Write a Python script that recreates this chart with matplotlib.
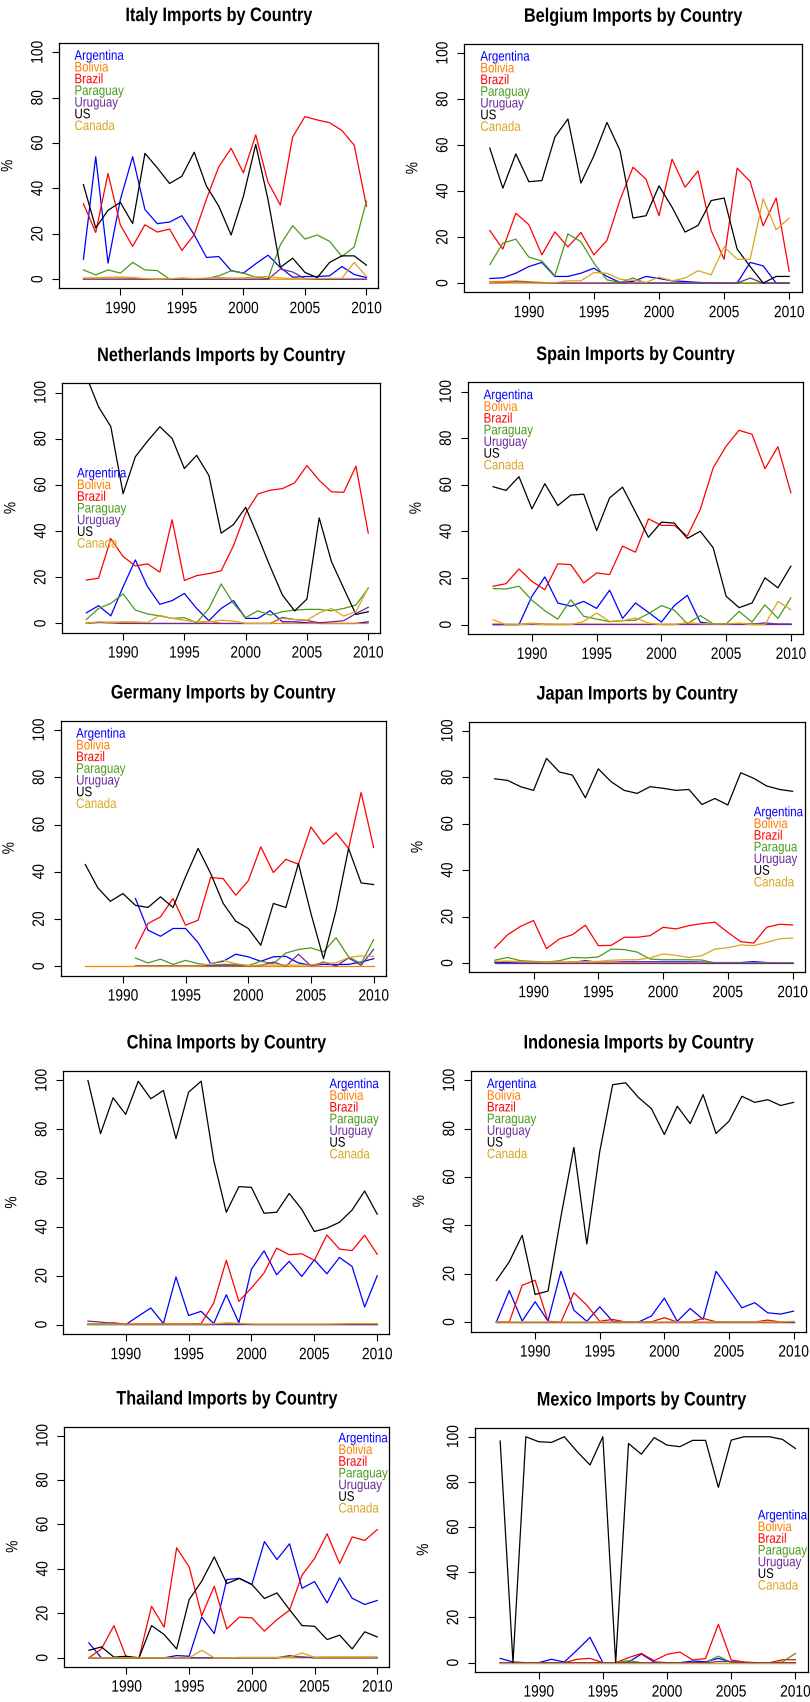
import numpy as np
import matplotlib
matplotlib.use('Agg')
import matplotlib.pyplot as plt
from matplotlib import transforms, patheffects
from matplotlib.transforms import Affine2D

nan = np.nan
YEARS = list(range(1987, 2011))

SERIES = ["Argentina", "Bolivia", "Brazil", "Paraguay", "Uruguay", "US", "Canada"]
COLORS = ["#0000FF", "#FF7F00", "#FF0000", "#4A9A1A", "#6A2A9A", "#000000", "#DAA520"]

# ---- Italy
ITA_ARG = [8.8, 54, 7.1, 35.1, 54, 30.7, 24.5, 25.2, 28, 19.6, 9.6, 10, 3.8, 2.7, 6.8, 10.6, 5.2, 0.9, 1.2, 1.2, 1.5, 5.6, 2.1, 0.7]
ITA_BOL = [0.4, 0.5, 0.6, 0.5, 0.4, 0, 0, 0, 0, 0, 0, 0, 0, 0, 0, 0, 0, 0, 0, 0, 0, 0, 0, 0]
ITA_BRA = [33.3, 20.6, 46.6, 23.9, 14.5, 24, 20.8, 22.1, 12.7, 19.6, 35.4, 49.6, 57.7, 46.9, 63.6, 42.8, 32.7, 62.7, 71.7, 70.2, 69, 65.6, 59.1, 32.2]
ITA_PAR = [4.1, 1.9, 4.1, 2.7, 7.4, 4.1, 3.8, 0, 0, 0, 0.3, 1.5, 3.7, 2.7, 0.9, 0.3, 15.2, 23.6, 17.7, 19.5, 16.7, 10, 14.2, 34.4]
ITA_URU = [0, 0, 0, 0, 0, 0, 0, 0, 0, 0, 0, 0, 0, 0, 0, 0, 4.5, 3.2, 0.3, 0, 0, 0, 0, 0]
ITA_US = [41.7, 22.6, 30.4, 33.9, 24.5, 55.5, 49.1, 42.2, 45.4, 56, 41, 32.2, 19.5, 36.6, 59.4, 35.1, 5.2, 9.3, 3, 0.7, 7.4, 10.3, 10.3, 6.2]
ITA_CAN = [0.5, 0.6, 0.9, 1.0, 0.8, 0.3, 0, 0.2, 0.6, 0.3, 0.5, 0.8, 0.5, 0.6, 1.0, 1.2, 0.6, 0.2, 0.2, 0.3, 0.4, 0.4, 7.4, 1.2]

# ---- Belgium
BEL_ARG = [2, 2.3, 4.3, 7.2, 9, 2.9, 2.9, 4.3, 6.5, 2.9, 0.3, 0.7, 2.9, 2, 1, 0.7, 0.3, 0.1, 0, 0, 9, 7.5, 0, 0]
BEL_BOL = [0.7, 0.7, 1, 0.6, 0.3, 0, 0, 0, 0, 0, 0, 0, 0, 0, 0, 0, 0, 0, 0, 0, 0, 0, 0, 0]
BEL_BRA = [22.9, 14.8, 30.4, 25.4, 12.3, 22.3, 15.7, 22, 12.3, 18.6, 36.2, 50.4, 45.2, 29.3, 53.9, 41.7, 48.8, 22.9, 10.4, 50, 44.2, 24.9, 37, 5.1]
BEL_PAR = [8, 17.4, 19.1, 11.3, 9.6, 3.2, 21.4, 18, 8.7, 1.4, 0.3, 2.2, 0, 0, 0, 0, 0, 0, 0, 0, 0, 0, 0, 0]
BEL_URU = [0, 0.2, 0.5, 0.3, 0, 0, 0, 0, 0, 0, 0, 0, 0, 0, 0, 0, 0, 0, 0, 0, 2.2, 0, 0, 0]
BEL_US = [58.7, 41.3, 56.2, 44.1, 44.6, 63.5, 71.4, 43.5, 55.4, 69.9, 57.7, 28.3, 29.3, 42.3, 33, 22.2, 25.1, 35.9, 37, 14.8, 7.2, 0, 2.9, 2.9]
BEL_CAN = [0, 0, 0, 0, 0, 0.2, 1, 1, 4.6, 4.3, 1.7, 1.2, 0.3, 2.6, 1, 2.2, 5.4, 3.6, 15.7, 10.4, 10.4, 36.7, 23.2, 28.3]

# ---- Netherlands
NLD_ARG = [4.6, 7.7, 3.3, 15.9, 27.5, 15.9, 8.3, 9.9, 13, 6.5, 1.2, 6.5, 9.9, 2.2, 2.2, 5.5, 0.7, 0.7, 0.3, 0, 0, 0, 0, 0.7]
NLD_BOL = [0.3, 0.5, 0.6, 0.5, 0.2, 0, 0, 0, 0, 0, 1, 0, 0, 0, 0, 0, 0, 0, 0, 0, 0, 0, 0, 0]
NLD_BRA = [18.8, 19.6, 36.7, 29, 24.9, 25.8, 22.2, 44.9, 18.6, 20.7, 21.6, 22.8, 33.6, 47.8, 56.1, 57.7, 58.4, 60.9, 68.4, 62, 57, 56.8, 68.1, 39.1]
NLD_PAR = [1.7, 6.5, 8.7, 12.8, 5.8, 4.1, 3.3, 2.2, 2.5, 0.3, 6.5, 17.1, 8.7, 2.5, 5.5, 3.6, 5.1, 5.8, 6.1, 6.1, 5.5, 6.5, 8, 15.2]
NLD_URU = [0, 0.4, 0.2, 0, 0, 0, 0, 0, 0, 0, 0, 0, 0, 0, 0, 0, 2.6, 1.7, 1.3, 0.3, 0.7, 1.2, 4.3, 7]
NLD_US = [107, 93.8, 85.2, 56.2, 72.2, 79, 85.2, 80.1, 67.1, 72.8, 64.1, 39.1, 42.8, 50.3, 37.7, 24.6, 12.3, 5.4, 10.6, 45.7, 26.8, 15.2, 3.9, 5.1]
NLD_CAN = [0, 0.7, 0.3, 0.7, 0.7, 0.4, 3.5, 2.2, 1.4, 0.7, 0.7, 1.4, 1, 0, 0, 0, 2.2, 1.7, 1.4, 4.6, 6.5, 3.2, 5.1, 15.5]

# ---- Spain
ESP_ARG = [0, 0, 0, 12.2, 20.5, 9.3, 7.9, 10, 7, 14.8, 2.7, 9.3, 5.3, 1.1, 8.2, 12.6, 1.1, 0.3, 0.3, 0.3, 0.3, 0.7, 0.3, 0.3]
ESP_BOL = [0.3, 0.2, 0.2, 0.6, 0.3, 0.2, 0.2, 0.3, 0.2, 0.2, 0.2, 0.2, 0.2, 0.2, 0.2, 0.3, 0.3, 0.3, 0.3, 0.5, 0.3, 0.2, 0.2, 0.2]
ESP_BRA = [16.5, 17.6, 23.9, 18.6, 15, 26.1, 25.8, 17.9, 22.2, 21.5, 33.7, 31.1, 45.4, 42.6, 42.6, 38, 49.4, 67.3, 76.6, 83.4, 81.7, 66.9, 76.4, 56.6]
ESP_PAR = [15.5, 15.3, 16.5, 10.5, 6, 2.4, 10.7, 3.6, 2.4, 1.3, 1.7, 1.9, 4.7, 8.2, 6.2, 0.4, 3.9, 0.4, 0.3, 5.7, 1.1, 8.5, 2.7, 11.5]
ESP_URU = [0.2, 0.2, 0.2, 0.2, 0.2, 0.2, 0.2, 0.2, 0.2, 0.2, 0.2, 0.2, 0.2, 0.2, 0.2, 0.2, 0.2, 0.2, 0.2, 0.2, 0.2, 0.2, 0.2, 0.2]
ESP_US = [59.2, 57.6, 63.5, 49.7, 60.5, 51.1, 55.6, 56, 40.4, 54.4, 59, 48.3, 37.5, 44, 43.6, 37, 40.1, 33, 12.2, 7.3, 9.3, 20.1, 15.8, 25.1]
ESP_CAN = [2.1, 0, 0, 0.4, 0, 0, 0, 1.4, 5, 1.4, 1.7, 2.9, 0.7, 0, 0, 1, 0.4, 0.3, 0.3, 0.7, 0, 0, 10, 6.4]

# ---- Germany (no South American data before 1991)
DEU_ARG = [nan, nan, nan, nan, 28.7, 15.3, 12.7, 16, 16, 10, 1.1, 2.1, 5.1, 4, 2.1, 4, 4.2, 1.4, 0.4, 0.8, 0.7, 0.8, 1.8, 3.2]
DEU_BOL = [0, 0, 0, 0, 0, 0, 0, 0, 0, 0, 0, 0, 0, 0, 0, 0, 0, 0, 0, 0, 0, 0, 0, 0]
DEU_BRA = [nan, nan, nan, nan, 7.5, 18.1, 20.9, 28.7, 17.4, 19.5, 37.6, 37.1, 30.1, 36.2, 50.6, 39.7, 45.3, 43.2, 59, 51.7, 56.5, 49.9, 73.6, 50.3]
DEU_PAR = [nan, nan, nan, nan, 3.5, 1.4, 3, 0.8, 2.5, 1.1, 0.4, 0.8, 0.8, 0.3, 2.1, 1.1, 5.6, 7.1, 7.8, 6.1, 12.1, 4, 1.1, 11.3]
DEU_URU = [nan, nan, nan, nan, 0.2, 0.2, 0.2, 0.2, 0.2, 0.2, 0.2, 0.2, 0.2, 0.2, 0.3, 1.8, 0, 5.1, 0.1, 1.8, 0.1, 3.5, 0.4, 7.2]
DEU_US = [43.1, 33.2, 27.5, 30.8, 25.8, 24.9, 29.4, 24.9, 37.9, 49.9, 39.3, 26.6, 19.1, 16, 8.9, 26.6, 24.9, 43.5, 22.3, 3.2, 23.7, 49.9, 35.3, 34.6]
DEU_CAN = [nan, nan, nan, nan, 0, 0, 0, 0, 0, 0, 1.1, 2.5, 1.1, 0.3, 0.5, 0.5, 0.5, 0.5, 0.5, 1.4, 1.4, 3.7, 4.4, 4.2]

# ---- Japan
JPN_ARG = [0.3, 0.3, 0.4, 0.3, 0.2, 0.2, 0.3, 1, 0.3, 0.3, 0.5, 0.5, 0.5, 0.5, 0.5, 0.5, 0.4, 0.2, 0.2, 0.2, 0.6, 0.2, 0.1, 0.1]
JPN_BOL = [0.6, 0.8, 0.6, 0.5, 0.4, 0.3, 0.3, 0.3, 0.3, 0.3, 0.2, 0.2, 0.1, 0.1, 0.1, 0.1, 0.1, 0, 0, 0, 0, 0, 0, 0]
JPN_BRA = [6.5, 12.2, 15.8, 18.3, 6.2, 10.4, 12.2, 16.3, 7.5, 7.6, 11.1, 11.1, 11.8, 15.4, 14.7, 16.1, 17, 17.6, 13.2, 9.2, 8.6, 15.4, 16.7, 16.4]
JPN_PAR = [1.2, 2.4, 1, 0.7, 0.4, 1, 2.4, 2.2, 2.6, 6, 5.8, 4.7, 1.7, 1.4, 1.4, 1.4, 1.3, 0, 0, 0, 0, 0, 0, 0]
JPN_URU = [0, 0, 0, 0, 0, 0, 0, 0, 0, 0, 0, 0, 0, 0, 0, 0, 0, 0, 0, 0, 0, 0, 0, 0]
JPN_US = [79.4, 78.7, 76, 74.4, 88.2, 82.3, 81, 71.2, 83.7, 78.1, 74.4, 73.1, 76, 75.3, 74.4, 74.8, 68.3, 70.9, 68.1, 82, 79.6, 76.3, 74.8, 74]
JPN_CAN = [0.7, 0.7, 0.6, 0.5, 0.4, 0.4, 0.5, 0.6, 0.7, 1.2, 1.4, 1.4, 2.2, 3.9, 3.3, 2.4, 3.2, 6, 6.6, 7.8, 7.5, 8.9, 10.4, 10.8]

# ---- China
CHN_ARG = [0, 0, 0, 0, 3.4, 6.8, 0.4, 19.5, 3.7, 5.4, 0.4, 12.2, 0.7, 22.7, 30.2, 20.4, 25.9, 19.7, 26.5, 20.8, 27.5, 23.8, 7.2, 20]
CHN_BOL = [0, 0.3, 0.7, 0, 0, 0, 0, 0, 0, 0, 0, 0, 0, 0, 0, 0, 0, 0, 0, 0, 0, 0, 0, 0]
CHN_BRA = [0.3, 0.3, 0.7, 0.2, 0.3, 0.3, 0.3, 0.3, 0.3, 0.4, 8.8, 26.3, 9.5, 15, 21.1, 31.3, 28.6, 29, 26.3, 36.7, 30.9, 30.3, 36.6, 28.8]
CHN_PAR = [0, 0, 0, 0, 0, 0, 0, 0, 0, 0, 0, 0.4, 0.4, 0, 0, 0, 0, 0, 0, 0, 0, 0, 0, 0]
CHN_URU = [1.4, 1, 0.4, 0, 0, 0, 0, 0, 0, 0, 0, 0, 0, 0, 0, 0, 0, 0, 0, 0, 0, 0, 0, 0]
CHN_US = [100, 78.2, 92.9, 86.1, 99.7, 92.5, 95.9, 76.2, 95.2, 99.7, 67.3, 46, 56.5, 56.2, 45.6, 46, 53.7, 47.2, 38.1, 39.5, 41.9, 46.9, 54.7, 45.2]
CHN_CAN = [0.3, 0.3, 0.2, 0.2, 0.2, 0.2, 0.2, 0.2, 0.2, 0.2, 0.3, 0.7, 0.5, 0.2, 0.2, 0.2, 0.2, 0.2, 0.2, 0.2, 0.3, 0.4, 0.4, 0.4]

# ---- Indonesia
IDN_ARG = [0, 13, 0.4, 8.4, 0.4, 21, 4.9, 0.3, 6.3, 0.3, 0, 0, 2.5, 9.9, 0.3, 5.6, 1.1, 21, 13.5, 5.9, 8, 3.8, 3.3, 4.5]
IDN_BOL = [0, 0, 0, 0, 0, 0, 0, 0, 0, 0, 0, 0, 0, 0, 0, 0, 0, 0, 0, 0, 0, 0, 0, 0]
IDN_BRA = [0, 0, 15.2, 17.3, 0.3, 0, 12.1, 7, 0.3, 1.1, 0, 0, 0.1, 1.8, 0, 0, 1.5, 0.1, 0, 0, 0, 0.8, 0, 0]
IDN_PAR = [0, 0, 0, 0, 0, 0, 0, 0, 0, 0, 0, 0, 0, 0, 0, 0, 0, 0, 0, 0, 0, 0, 0, 0]
IDN_URU = [0, 0, 0, 0, 0, 0, 0, 0, 0, 0, 0, 0, 0, 0, 0, 0, 0, 0, 0, 0, 0, 0, 0, 0]
IDN_US = [17.2, 24.9, 35.9, 11.4, 12.8, 43.7, 72.3, 32.3, 70.5, 98.2, 99, 92.9, 88.3, 77.6, 89.3, 82.1, 94.1, 78, 83.1, 93.4, 90.9, 92, 89.6, 90.9]
IDN_CAN = [0, 0, 0, 0, 0, 0, 0, 0, 0, 0, 0, 0, 0, 0, 0, 0, 0, 0, 0, 0, 0, 0, 0, 0.3]

# ---- Thailand
THA_ARG = [6.7, 0, 0, 0, 0, 0, 0, 1, 0.7, 18.4, 10.9, 35.2, 35.8, 33, 52.3, 44.2, 51.3, 31.3, 34.3, 24.7, 36, 26.8, 24, 25.8]
THA_BOL = [0, 0, 0, 0, 0, 0, 0, 0, 0, 0, 0, 0, 0, 0, 0, 0, 0, 0, 0.3, 0.3, 0.3, 0.3, 0.3, 0.3]
THA_BRA = [0, 4, 14.5, 0, 0, 23.2, 13.8, 49.5, 40.9, 19, 32.2, 13, 18.3, 18, 12, 17.2, 21.4, 37.2, 44.7, 55.8, 42.4, 54.4, 52.8, 57.7]
THA_PAR = [0, 0, 0, 0, 0, 0, 0, 0, 0, 0, 0, 0, 0, 0, 0, 0, 0.5, 0.5, 0, 0, 0, 0, 0, 0]
THA_URU = [0, 0, 0, 0, 0, 0, 0, 0, 0, 0, 0, 0, 0, 0, 0, 0, 1, 0.2, 0, 0, 0, 0, 0, 0]
THA_US = [3.4, 4.9, 0.3, 0.7, 0, 14.5, 10.5, 4, 26.2, 34.5, 45.4, 33.4, 35.7, 33, 26.7, 29.2, 21.7, 14.5, 14.2, 8.2, 10.2, 4, 11.7, 9.4]
THA_CAN = [0, 0, 0, 0, 0, 0, 0, 0, 0, 3.4, 0, 0, 0.2, 0.2, 0.2, 0.2, 0.2, 2.2, 0.2, 0.3, 0.3, 0.3, 0.3, 0.3]

# ---- Mexico
MEX_ARG = [1.9, 0.3, 0, 0, 1.5, 0.3, 5.6, 11.2, 0, 0, 0.3, 3.8, 0.3, 0, 0, 0.7, 0.4, 1.9, 0.3, 0, 0, 0, 0, 0]
MEX_BOL = [0, 0, 0, 0, 0, 0, 0, 0, 0, 0, 0, 0, 0, 0, 0, 0, 0, 0, 0, 0, 0, 0, 0, 0]
MEX_BRA = [0, 0, 0, 0, 0, 0, 1.5, 1.9, 0, 0, 2.2, 4.1, 0.9, 3.7, 4.7, 1.2, 1.8, 17, 1.2, 0.3, 0, 0, 1.3, 1.3]
MEX_PAR = [0, 0, 0, 0, 0, 0, 0, 0, 0, 0, 0.9, 0, 0, 0, 0, 0, 0, 2.9, 0, 0, 0, 0, 0.3, 4.1]
MEX_URU = [0, 0, 0, 0, 0, 0, 0, 0, 0, 0, 0, 0, 0, 0, 0, 0, 0, 0.5, 0.5, 0, 0, 0, 0, 0]
MEX_US = [98.1, 0, 100, 97.8, 97.5, 100, 93.4, 87.5, 100, 0, 97, 92.3, 99.6, 96.3, 95.6, 98.4, 98.4, 77.6, 98.5, 100, 100, 100, 98.8, 94.8]
MEX_CAN = [0, 0, 0, 0, 0, 0, 0, 0, 0, 0, 0, 0, 0, 0, 0, 0, 0, 0, 0, 0, 0, 0, 0, 0]

# (title, series, legend anchor (year, value), axes box in pixels: left, top, right, bottom)
PANELS = [
    ("Italy", [ITA_ARG, ITA_BOL, ITA_BRA, ITA_PAR, ITA_URU, ITA_US, ITA_CAN], (1986.27, 98.7), (59.3, 43.3, 378.3, 288.3)),
    ("Belgium", [BEL_ARG, BEL_BOL, BEL_BRA, BEL_PAR, BEL_URU, BEL_US, BEL_CAN], (1986.27, 98.7), (464.3, 44, 801.7, 292.3)),
    ("Netherlands", [NLD_ARG, NLD_BOL, NLD_BRA, NLD_PAR, NLD_URU, NLD_US, NLD_CAN], (1986.24, 65.2), (62.3, 383.3, 380, 632.7)),
    ("Spain", [ESP_ARG, ESP_BOL, ESP_BRA, ESP_PAR, ESP_URU, ESP_US, ESP_CAN], (1986.27, 98.7), (467.7, 382.3, 803.3, 634)),
    ("Germany", [DEU_ARG, DEU_BOL, DEU_BRA, DEU_PAR, DEU_URU, DEU_US, DEU_CAN], (1986.27, 98.7), (60.7, 720.7, 385.7, 975.7)),
    ("Japan", [JPN_ARG, JPN_BOL, JPN_BRA, JPN_PAR, JPN_URU, JPN_US, JPN_CAN], (2007.0, 65.2), (469.3, 721.7, 805, 972.3)),
    ("China", [CHN_ARG, CHN_BOL, CHN_BRA, CHN_PAR, CHN_URU, CHN_US, CHN_CAN], (2006.2, 98.7), (63.3, 1070.7, 389.3, 1334.3)),
    ("Indonesia", [IDN_ARG, IDN_BOL, IDN_BRA, IDN_PAR, IDN_URU, IDN_US, IDN_CAN], (1986.27, 98.7), (471, 1070.7, 806, 1331.7)),
    ("Thailand", [THA_ARG, THA_BOL, THA_BRA, THA_PAR, THA_URU, THA_US, THA_CAN], (2006.9, 99.0), (64.3, 1426.7, 389.3, 1666.7)),
    ("Mexico", [MEX_ARG, MEX_BOL, MEX_BRA, MEX_PAR, MEX_URU, MEX_US, MEX_CAN], (2007.07, 65.4), (475, 1427.7, 807.7, 1671.7)),
]


# the source text is narrow and tall (R output squeezed); stretch glyphs vertically
class Stretch(patheffects.AbstractPathEffect):
    def __init__(self, sy=1.2):
        super().__init__()
        self.sy = sy

    def draw_path(self, renderer, gc, tpath, affine, rgbFace=None):
        renderer.draw_path(gc, tpath, Affine2D().scale(1, self.sy) + affine, rgbFace)


TALL = [Stretch(1.2)]
plt.rcParams['font.family'] = ['Liberation Sans', 'DejaVu Sans']

W, H = 810, 1702
fig = plt.figure(figsize=(W / 100, H / 100), dpi=100)

for title, data, leg_pos, (l, t, r, b) in PANELS:
    ax = fig.add_axes([l / W, 1 - b / H, (r - l) / W, (b - t) / H])
    for name, vals, col in zip(SERIES, data, COLORS):
        ax.plot(YEARS, vals, color=col, lw=0.9)

    ax.set_xlim(1985.04, 2010.96)
    ax.set_ylim(-4, 104)
    ax.set_xticks([1990, 1995, 2000, 2005, 2010])
    ax.set_yticks([0, 20, 40, 60, 80, 100])
    ax.tick_params(direction='out', length=5, width=0.8, labelsize=9.9, pad=5)
    ax.tick_params(axis='y', labelrotation=90)
    for lab in ax.get_yticklabels():
        lab.set_va('center')
        lab.set_path_effects(TALL)
    for lab in ax.get_xticklabels():
        lab.set_path_effects(TALL)
    for sp in ax.spines.values():
        sp.set_linewidth(0.9)

    ax.set_ylabel('%', fontsize=9.9, path_effects=TALL)
    ax.yaxis.set_label_coords(-44 / (r - l), 0.5)
    ax.set_title(title + " Imports by Country", fontsize=11.7, fontweight='bold', pad=16,
                 path_effects=TALL)

    # legend as plain coloured text, like R's legend(bty="n") without symbols
    labels = list(SERIES)
    if title == "Japan":
        labels[3] = "Paragua"
    for i, (lab, col) in enumerate(zip(labels, COLORS)):
        tr = transforms.offset_copy(ax.transData, fig=fig, x=0, y=-i * 11.7 - 1.5, units='dots')
        ax.text(leg_pos[0], leg_pos[1], lab, color=col, fontsize=8.3,
                ha='left', va='center', transform=tr, clip_on=False, path_effects=TALL)

fig.savefig('out.png', dpi=100)
